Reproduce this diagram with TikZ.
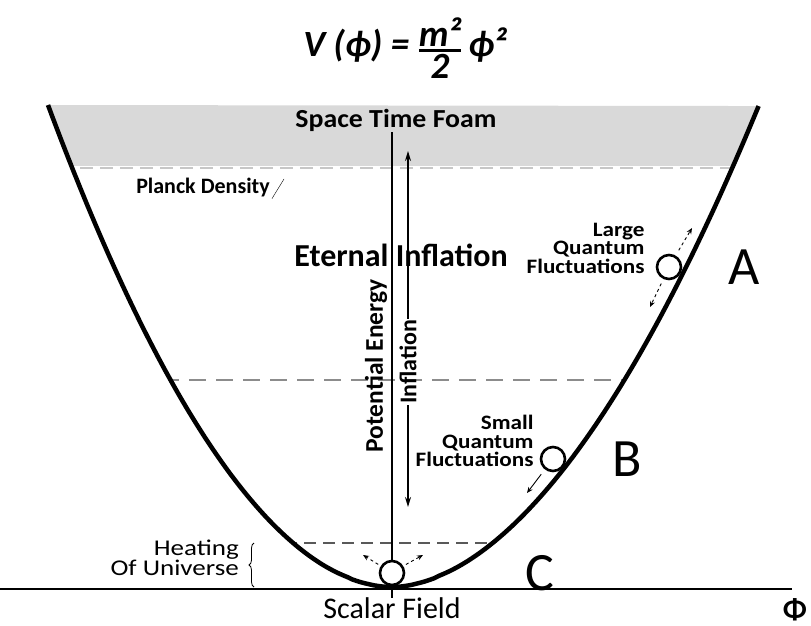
\documentclass[tikz,border=0pt]{standalone}
\usepackage{fontspec}
\setmainfont{Carlito}
\usetikzlibrary{arrows.meta,positioning,decorations.pathreplacing}
\definecolor{foamgray}{HTML}{D9D9D9}
\newcommand{\fs}[2]{\fontsize{#1}{#2}\selectfont}
\newcommand{\wide}[1]{\addfontfeatures{FakeStretch=#1}}
\def\bowl{plot[domain=1:0.002,samples=80] ({392-344*\x},{587-482*pow(\x,1.92)})
  -- plot[domain=0.002:1,samples=80] ({392+367*\x},{587-482*pow(\x,1.85)})}

\begin{document}
\begin{tikzpicture}[x=1pt, y=-1pt,
  every node/.style = {inner sep=1pt},
  lbl/.style = {align=right, font=\bfseries\fs{20.5}{18.5}\wide{1.13}},
  big/.style = {font=\fs{54}{54}, inner sep=0pt},
  ball/.style = {circle, draw, line width=2.6pt, fill=white, minimum size=24pt, inner sep=0pt},
  farr/.style = {-{Stealth[length=6pt,width=5pt]}, line width=0.9pt},
  iarr/.style = {-{Stealth[length=10pt,width=6pt]}, line width=1.4pt},
  level/.style = {dash pattern=on 17pt off 10pt, line width=2pt, black!45},
]
\useasboundingbox (0,0) rectangle (811,626);
% band and levels inside the bowl
\begin{scope}
  \clip \bowl -- cycle;
  \fill[foamgray] (0,105) rectangle (811,166);
  \draw[dash pattern=on 13pt off 7pt, line width=1.5pt, black!22] (0,168) -- (811,168);
  \draw[level] (0,380) -- (811,380);
  \draw[dash pattern=on 12pt off 7pt, line width=1.3pt, black!65] (0,543) -- (811,543);
\end{scope}
\draw[line width=4.5pt] \bowl;

\node[font=\bfseries\itshape\fs{37}{37}] (eq) at (405,48) {V (ϕ) = ${\hbox{m²}\above 2.6pt\hbox{2}}$\,ϕ²};
\node[font=\bfseries\fs{26}{26}\wide{1.07}] (foam) at (396,120) {Space Time Foam};
\node[font=\bfseries\fs{22}{22}] (planck) at (203,188) {Planck Density};
\coordinate (pd) at (284,179);
\draw[thin] ([xshift=1pt]planck.south east) -- (pd);
\node[font=\bfseries\fs{32}{32}] (eternal) at (401,255) {Eternal Inflation};

\coordinate (xl) at (0,589);
\coordinate (xr) at (792,589);
\coordinate (vb) at (392,598);
\draw[line width=1.6pt] (xl) -- (xr);
\draw[line width=1.6pt] (foam.south -| vb) -- (vb);
\node[font=\fs{30}{30}] (scalar) at (392,608) {Scalar Field};
\node[font=\bfseries\fs{30}{30}] (Phi) at (795,610) {Φ};

\node[rotate=90, font=\bfseries\fs{25.5}{25.5}] (pe) at (376,366) {Potential Energy};
\node[rotate=90, font=\bfseries\fs{24}{24}] (infl) at (408,362) {Inflation};
\coordinate (itop) at (408,151);
\coordinate (ibot) at (408,507);
\draw[iarr] (infl.east) -- (itop);
\draw[iarr] (infl.west) -- (ibot);

\node[ball] (ballA) at (669,267) {};
\node[ball] (ballB) at (553,459) {};
\node[ball] (ballC) at (392,573) {};
\node[lbl, left=10pt of ballA, yshift=19pt] (large) {Large\\Quantum\\Fluctuations};
\node[lbl, left=5pt of ballB, yshift=18pt] (small) {Small\\Quantum\\Fluctuations};
\node[big, right=46pt of ballA] (A) {A};
\node[big, right=46pt of ballB] (B) {B};
\node[big, right=120pt of ballC] (C) {C};

\coordinate (a1) at (692,228);
\coordinate (a2) at (650,307);
\coordinate (b1) at (527,493);
\coordinate (c1) at (363,555);
\coordinate (c2) at (423,555);
\draw[farr, dashed, shorten <=6pt] (ballA.60) -- (a1);
\draw[farr, dashed, shorten <=5pt] (ballA.245) -- (a2);
\draw[farr, shorten <=6pt] (ballB.232) -- (b1);
\draw[farr, dashed, shorten <=3pt] (ballC.148) -- (c1);
\draw[farr, dashed, shorten <=3pt] (ballC.32) -- (c2);

\node[align=right, anchor=east, font=\fs{22.5}{19}\wide{1.2}] (heat) at (240,558) {Heating\\Of Universe};
\coordinate (hb) at (254,587);
\coordinate (ht) at (254,543);
\draw[decorate, decoration={brace, amplitude=5pt}, line width=0.8pt] (hb) -- (ht);
\end{tikzpicture}
\end{document}
